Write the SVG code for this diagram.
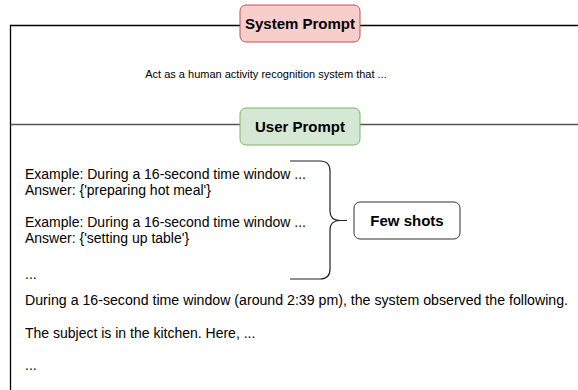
<svg xmlns="http://www.w3.org/2000/svg" width="578" height="390" viewBox="0 0 578 390">
<style>
.t{font-family:"Liberation Sans",Arial,Helvetica,sans-serif;font-size:14px;fill:#000}
.s{font-family:"Liberation Sans",Arial,Helvetica,sans-serif;font-size:11px;fill:#000}
.b{font-family:"Liberation Sans",Arial,Helvetica,sans-serif;font-size:15px;font-weight:bold;fill:#000}
</style>
<rect width="578" height="390" fill="#fff"/>
<g id="connectors" fill="none">
<path d="M10.5,390 V25.5 H578" stroke="#000" stroke-width="1.3"/>
<path d="M10.5,124.5 H578" stroke="#555" stroke-width="1.3"/>
<path id="brace" d="M290,161 H320 Q330,161 330,171 V211 Q330,220.5 340,220.5 H347 M340,220.5 Q330,220.5 330,230 V269 Q330,279 320,279 H290" stroke="#222" stroke-width="1.2"/>
</g>
<g id="system-prompt">
<rect x="240" y="5" width="120" height="37" rx="6" fill="#f8cecc" stroke="#b85450"/>
<text class="b" x="300" y="29" text-anchor="middle">System Prompt</text>
</g>
<g id="system-text">
<text class="s" x="266" y="78" text-anchor="middle">Act as a human activity recognition system that ...</text>
</g>
<g id="user-prompt">
<rect x="240" y="108" width="120" height="37" rx="6" fill="#d5e8d4" stroke="#82b366"/>
<text class="b" x="300" y="132" text-anchor="middle">User Prompt</text>
</g>
<g id="examples">
<text class="t" x="25" y="179">Example: During a 16-second time window ...</text>
<text class="t" x="25" y="195">Answer: {'preparing hot meal'}</text>
<text class="t" x="25" y="227">Example: During a 16-second time window ...</text>
<text class="t" x="25" y="243">Answer: {'setting up table'}</text>
<text class="t" x="25" y="279">...</text>
</g>
<g id="few-shots">
<rect x="354" y="202" width="106" height="37" rx="6" fill="#fff" stroke="#333"/>
<text class="b" x="407" y="226" text-anchor="middle">Few shots</text>
</g>
<g id="query">
<text class="t" x="25" y="305" textLength="543" lengthAdjust="spacingAndGlyphs">During a 16-second time window (around 2:39 pm), the system observed the following.</text>
<text class="t" x="25" y="338">The subject is in the kitchen. Here, ...</text>
<text class="t" x="25" y="370">...</text>
</g>
</svg>
